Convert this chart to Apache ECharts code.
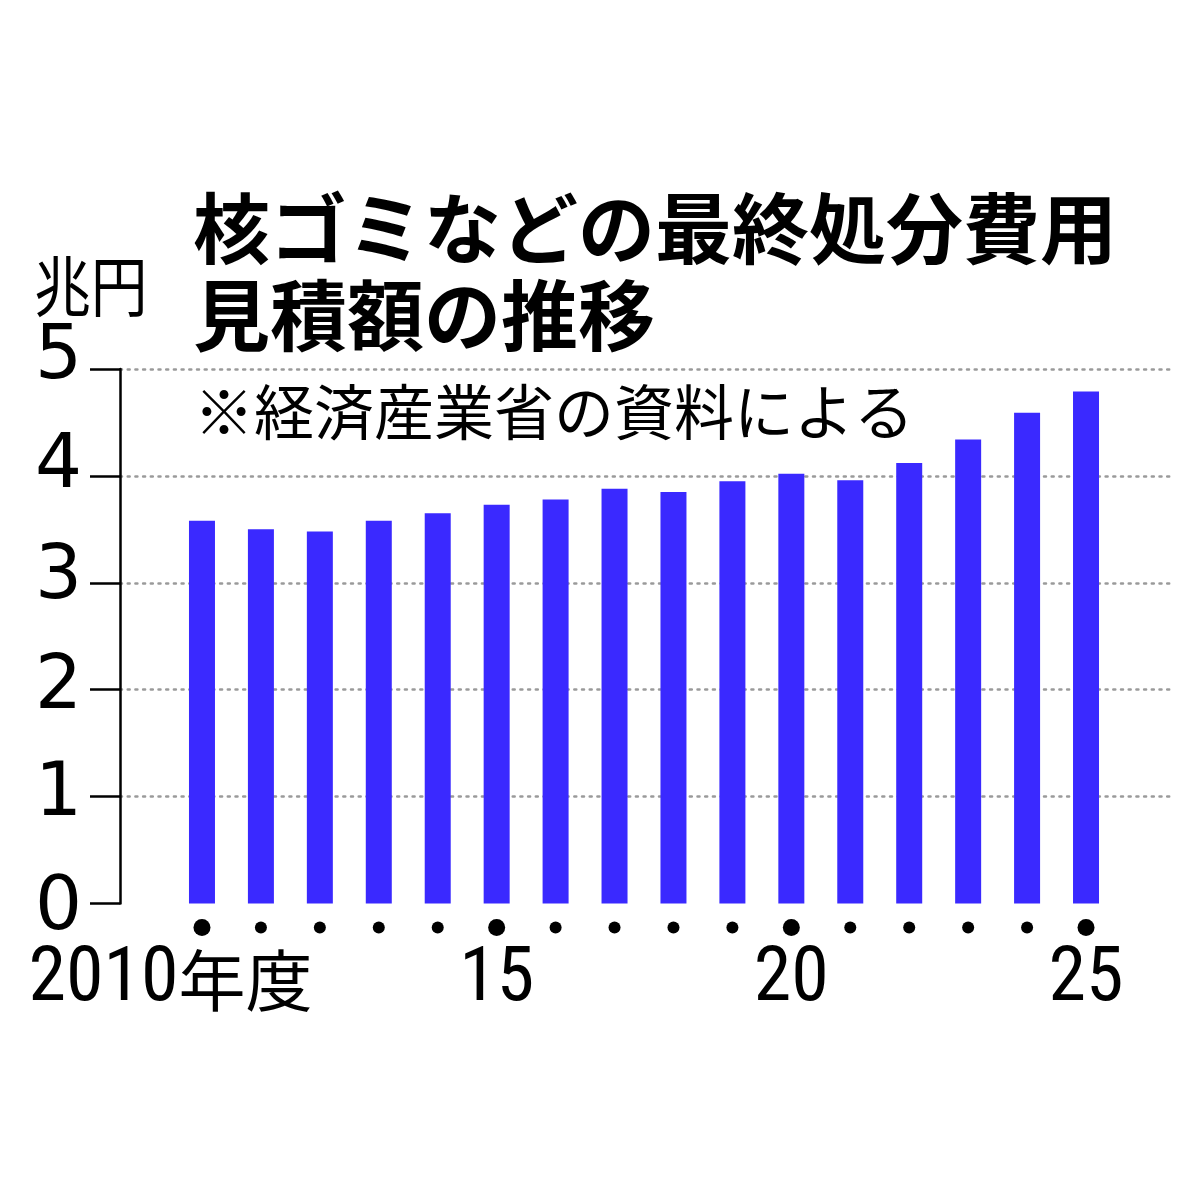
<!DOCTYPE html>
<html>
<head>
<meta charset="utf-8">
<script src="https://cdn.jsdelivr.net/npm/echarts@6/dist/echarts.min.js"></script>
<style>
html,body{margin:0;padding:0;background:#fff;}
#chart{width:1200px;height:1200px;}
</style>
</head>
<body>
<div id="chart"></div>
<script>
// ---- data ----
const years = [2010, 2011, 2012, 2013, 2014, 2015, 2016, 2017, 2018, 2019, 2020, 2021, 2022, 2023, 2024, 2025];
const values = [3.58, 3.50, 3.48, 3.58, 3.65, 3.73, 3.78, 3.88, 3.85, 3.95, 4.02, 3.96, 4.12, 4.34, 4.59, 4.79];
const labeledYears = [2010, 2015, 2020, 2025];
const yTickValues = [0, 1, 2, 3, 4, 5];
const titleLines = ['核ゴミなどの最終処分費用', '見積額の推移'];
const unitLabel = '兆円';
const sourceNote = '※経済産業省の資料による';
const firstYearSuffix = '年度';

const chart = echarts.init(document.getElementById('chart'), null, {renderer: 'canvas'});

const numFont = "'Liberation Sans Narrow', 'Roboto Condensed', 'Liberation Sans', sans-serif";
const yNumFont = "'DejaVu Sans', sans-serif";
const cjkFont = "'Noto Sans CJK JP', sans-serif";

const xMin = 2008.609, xMax = 2026.425;

function dotLabel(v) {
  if (years.indexOf(v) < 0) return '';
  return labeledYears.indexOf(v) >= 0 ? '{big| }' : '{small| }';
}
function yearLabel(v) {
  if (labeledYears.indexOf(v) < 0) return '';
  if (v === labeledYears[0]) return '{y0|' + v + '}{nd|' + firstYearSuffix + '}';
  return '{yr|' + String(v).slice(2) + '}';
}
function yLabel(v) {
  if (yTickValues.indexOf(v) < 0) return '';
  const styleName = 'v' + v;
  return '{' + styleName + '|' + v + '}';
}
const yBase = {fontFamily: yNumFont, fontSize: 74, color: '#000'};
function yRich(pt, pb) { return Object.assign({}, yBase, {padding: [pt, 0, pb, 0]}); }

const option = {
  backgroundColor: '#fff',
  animation: false,
  title: {
    text: titleLines.join('\n'),
    left: 188,
    top: 180,
    textStyle: {
      fontFamily: cjkFont,
      fontSize: 77,
      fontWeight: 'bold',
      lineHeight: 87,
      color: '#000'
    }
  },
  graphic: [
    {
      type: 'text',
      x: 34, y: 286,
      scaleX: 0.86,
      style: {
        text: unitLabel,
        fontFamily: cjkFont,
        fontSize: 66,
        fill: '#000',
        textAlign: 'left',
        textVerticalAlign: 'middle'
      }
    },
    {
      type: 'text',
      x: 194, y: 412,
      z: 10,
      style: {
        text: sourceNote,
        fontFamily: cjkFont,
        fontSize: 60,
        fill: '#000',
        textAlign: 'left',
        textVerticalAlign: 'middle'
      }
    }
  ],
  grid: {
    left: 120,
    right: 30,
    top: 369,
    bottom: 296.5,
    containLabel: false
  },
  xAxis: [
    {
      type: 'value',
      min: xMin,
      max: xMax,
      position: 'bottom',
      axisLine: {show: false},
      axisTick: {show: false},
      splitLine: {show: false},
      axisLabel: {
        show: true,
        customValues: years,
        showMinLabel: true,
        showMaxLabel: true,
        hideOverlap: false,
        margin: 15,
        formatter: dotLabel,
        rich: {
          big: {width: 17, height: 17, borderRadius: 9, backgroundColor: '#000', lineHeight: 18, verticalAlign: 'middle'},
          small: {width: 12, height: 12, borderRadius: 6, backgroundColor: '#000', lineHeight: 18, verticalAlign: 'middle'}
        }
      }
    },
    {
      type: 'value',
      min: xMin,
      max: xMax,
      position: 'bottom',
      axisLine: {show: false},
      axisTick: {show: false},
      splitLine: {show: false},
      axisLabel: {
        show: true,
        customValues: labeledYears,
        showMinLabel: true,
        showMaxLabel: true,
        hideOverlap: false,
        margin: 33,
        formatter: yearLabel,
        rich: {
          yr: {fontFamily: numFont, fontSize: 76, lineHeight: 88, color: '#000'},
          y0: {fontFamily: numFont, fontSize: 76, lineHeight: 88, color: '#000'},
          nd: {fontFamily: cjkFont, fontSize: 67, lineHeight: 88, color: '#000', padding: [0, 63, 0, 0]}
        }
      }
    }
  ],
  yAxis: {
    type: 'value',
    min: 0,
    max: 5,
    interval: 1,
    axisLine: {show: true, lineStyle: {color: '#000', width: 2.5}},
    axisTick: {show: true, length: 30, inside: false, lineStyle: {color: '#000', width: 2.5}},
    axisLabel: {
      show: true,
      margin: 38,
      fontFamily: yNumFont,
      fontSize: 74,
      color: '#000',
      formatter: yLabel,
      rich: {
        v5: yRich(0, 20),
        v4: yRich(0, 16),
        v3: yRich(0, 8),
        v2: yRich(0, 2),
        v1: yRich(0, 2),
        v0: yRich(12, 0)
      }
    },
    splitLine: {
      show: true,
      showMinLine: false,
      lineStyle: {color: '#9a9a9a', width: 2.5, type: [2, 5.7], cap: 'round'}
    }
  },
  series: [
    {
      type: 'bar',
      xAxisIndex: 0,
      barWidth: 26,
      data: years.map(function (y, i) { return [y, values[i]]; }),
      itemStyle: {color: '#3a29ff'},
      z: 2
    }
  ]
};

chart.setOption(option);
</script>
</body>
</html>
